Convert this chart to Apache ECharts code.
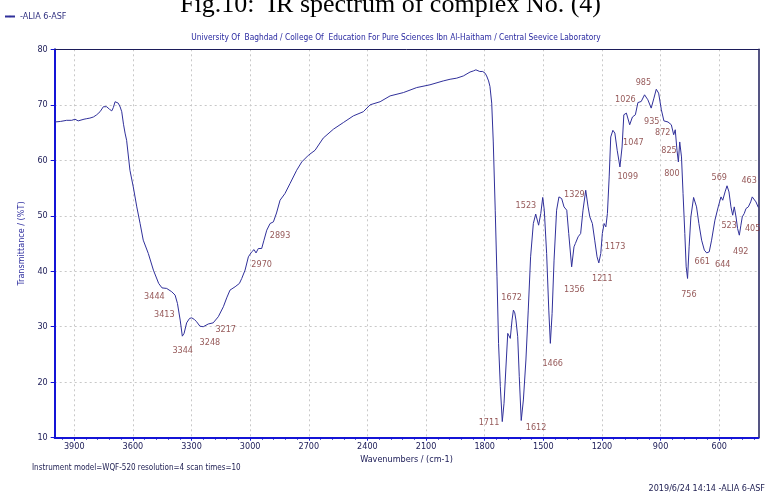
<!DOCTYPE html>
<html><head><meta charset="utf-8">
<script src="https://cdn.jsdelivr.net/npm/echarts@6/dist/echarts.min.js"></script>
<style>html,body{margin:0;padding:0;background:#fff}#c{width:774px;height:504px}</style>
</head><body><div id="c"></div>
<script>
// Wavenumber (cm-1) of each traced point
const wavenumbers = [4000,3970,3939,3913,3896,3880,3870,3850,3836,3820,3802,3785,3768,3751,3734,3720,3708,3700,3691,3683,3675,3665,3657,3648,3640,3632,3615,3598,3580,3563,3547,3521,3495,3468,3451,3427,3401,3384,3372,3358,3347,3338,3325,3310,3299,3285,3274,3257,3240,3214,3189,3163,3137,3120,3103,3077,3055,3043,3026,3009,2992,2980,2970,2958,2941,2930,2915,2898,2881,2865,2847,2822,2796,2762,2736,2702,2668,2626,2574,2523,2472,2421,2386,2335,2284,2216,2148,2080,2012,1977,1943,1909,1875,1858,1845,1825,1810,1798,1790,1780,1773,1764,1756,1746,1737,1729,1720,1710,1701,1692,1682,1675,1669,1660,1653,1646,1640,1631,1623,1613,1602,1589,1577,1565,1551,1539,1524,1513,1503,1495,1483,1472,1464,1455,1445,1432,1420,1406,1394,1380,1370,1355,1343,1336,1326,1322,1309,1297,1283,1271,1262,1249,1237,1225,1216,1206,1198,1189,1180,1172,1163,1155,1144,1134,1122,1108,1097,1088,1075,1058,1044,1029,1016,999,982,965,948,934,922,910,896,883,862,845,833,825,816,809,802,793,785,776,769,762,754,745,731,716,704,690,676,664,651,639,622,605,591,582,570,560,550,540,531,523,514,506,497,489,482,472,463,451,439,431,421,412,400];
// Transmittance (%T) of each traced point
const transmittance = [66.9,67.0,67.2,67.2,67.4,67.1,67.2,67.4,67.5,67.6,67.8,68.2,68.75,69.65,69.65,69.2,68.9,69.5,70.55,70.8,70.3,69.6,68.75,66.5,64.9,63.6,58.2,55.2,51.6,48.6,45.6,43.2,40.2,37.8,37.0,36.9,36.3,35.7,34.2,31.2,28.3,28.8,30.7,31.5,31.6,31.3,30.9,30.1,30.0,30.5,30.7,31.8,33.6,35.2,36.6,37.2,37.8,38.7,40.2,42.6,43.5,43.9,43.3,44.1,44.1,45.5,47.4,48.6,48.9,50.5,52.8,54.0,55.8,58.2,59.7,60.9,61.8,64.0,65.6,66.8,68.0,68.75,70.0,70.55,71.6,72.2,73.1,73.6,74.3,74.6,74.8,75.2,75.9,76.1,76.3,76.0,76.0,75.7,75.2,74.3,73.3,70.3,63.3,51.0,39.0,27.0,19.2,12.9,16.2,22.2,28.8,29.1,27.9,31.2,33.0,32.5,31.2,28.2,21.0,13.1,16.8,24.0,33.0,42.6,48.6,50.3,48.3,50.4,53.3,51.0,43.2,33.0,27.0,32.4,42.0,51.0,53.4,53.1,51.6,51.0,46.8,40.8,44.4,45.0,45.3,46.2,46.8,51.0,54.6,51.6,49.8,48.6,45.6,42.6,41.5,43.2,46.8,48.6,48.0,50.4,57.0,64.2,65.4,64.9,61.8,58.8,62.4,68.2,68.5,66.4,67.8,68.2,70.4,70.6,71.8,70.9,69.4,71.2,72.8,72.1,69.1,67.1,66.9,66.4,64.6,65.5,61.8,59.7,63.3,60.6,54.0,46.8,40.8,38.7,44.4,49.8,53.3,51.6,48.6,45.6,43.8,43.3,43.5,45.6,49.2,51.6,53.4,52.8,54.3,55.4,54.3,51.6,50.1,51.6,49.8,47.7,46.5,48.3,49.8,50.4,51.3,51.6,52.5,53.4,53.1,52.5,51.5];

// Peak annotations: text, and where the text sits (wavenumber, %T)
const peakNames  = ['3444','3413','3344','3248','3217','2970','2893','1711','1612','1672','1523','1466','1329','1356','1211','1173','1099','1026','1047','985','935','872','825','800','569','463','523','405','492','661','644','756'];
const peakLabelWn = [3490,3439,3345,3206,3125,2941,2847,1778,1537,1662,1589,1452,1341,1341,1198,1133,1068,1080,1039,988,945,889,857,842,600,447,549,429,490,687,582,755];
const peakLabelT  = [35.5,32.1,25.7,27.2,29.4,41.1,46.5,12.8,11.9,35.3,51.9,23.3,53.8,36.6,38.7,44.5,57.0,70.9,63.1,74.0,66.9,64.9,61.7,57.5,56.9,56.4,48.2,47.6,43.5,41.8,41.2,35.8];

const xTickLabels = [3900,3600,3300,3000,2700,2400,2100,1800,1500,1200,900,600];
const xMin = 400, xMax = 4000;
const yMin = 10, yMax = 80, yStep = 10;

const seriesName = '-ALIA 6-ASF';
const titleText = 'Fig.10:  IR spectrum of complex No. (4)';
const subtitleText = 'University Of  Baghdad / College Of  Education For Pure Sciences Ibn Al-Haitham / Central Seevice Laboratory';
const instrumentText = 'Instrument model=WQF-520 resolution=4 scan times=10';
const dateText = '2019/6/24 14:14 -ALIA 6-ASF';

const FONT = "'Liberation Sans Narrow','Arial Narrow','DejaVu Sans Condensed',sans-serif";
const minorTicks = [];
for (let v = 420; v <= 3960; v += 60) minorTicks.push(v);

const lineData = wavenumbers.map((w, i) => [w, transmittance[i]]);
const labelData = peakNames.map((n, i) => ({ name: n, value: [peakLabelWn[i], peakLabelT[i]] }));

const BORDER = '#1c1c5a';
const AXIS = '#1414d6';
const chart = echarts.init(document.getElementById('c'));
chart.setOption({
  animation: false,
  backgroundColor: '#ffffff',
  grid: { left: 54.7, right: 15.7, top: 49.3, bottom: 66.3, show: false },
  legend: {
    data: [seriesName], left: 4, top: 12, itemWidth: 10, itemHeight: 2, padding: 0,
    textStyle: { fontFamily: FONT, fontSize: 9, color: '#303080' }
  },
  xAxis: [{
    type: 'value', min: xMin, max: xMax, inverse: true,
    axisLine: { lineStyle: { color: AXIS, width: 2 } },
    axisTick: { show: true, customValues: xTickLabels, length: 3, lineStyle: { color: AXIS } },
    axisLabel: { customValues: xTickLabels, formatter: v => String(v), color: '#20205a', fontFamily: FONT, fontSize: 9, margin: 4 },
    splitLine: { show: true, lineStyle: { color: '#c8c8c8', type: [2, 3], width: 1 } },
    name: 'Wavenumbers / (cm-1)', nameLocation: 'middle', nameGap: 14,
    nameTextStyle: { fontFamily: FONT, fontSize: 9, color: '#20205a' }
  }, {
    type: 'value', min: xMin, max: xMax, inverse: true, position: 'bottom',
    axisLine: { show: false },
    axisTick: { show: true, customValues: minorTicks, length: 2, lineStyle: { color: AXIS } },
    axisLabel: { show: false }, splitLine: { show: false }
  }, {
    type: 'value', min: xMin, max: xMax, inverse: true, position: 'top',
    axisLine: { show: true, lineStyle: { color: BORDER, width: 1 } },
    axisTick: { show: false }, axisLabel: { show: false }, splitLine: { show: false }
  }],
  yAxis: [{
    type: 'value', min: yMin, max: yMax, interval: yStep,
    axisLine: { show: true, lineStyle: { color: AXIS, width: 2 } },
    axisTick: { show: true, length: 4, lineStyle: { color: AXIS } },
    axisLabel: { color: '#20205a', fontFamily: FONT, fontSize: 9, margin: 7 },
    splitLine: { show: true, lineStyle: { color: '#c8c8c8', type: [2, 3], width: 1 } },
    name: 'Transmittance / (%T)', nameLocation: 'middle', nameGap: 18,
    nameTextStyle: { fontFamily: FONT, fontSize: 9, color: '#3030a0' }
  }, {
    type: 'value', min: yMin, max: yMax, interval: yStep, position: 'right',
    axisLine: { show: true, lineStyle: { color: BORDER, width: 1.5 } },
    axisTick: { show: false }, axisLabel: { show: false }, splitLine: { show: false }
  }],
  series: [{
    name: seriesName, type: 'line', data: lineData, symbol: 'none', showSymbol: false,
    xAxisIndex: 0, yAxisIndex: 0,
    lineStyle: { color: '#30309a', width: 1 }, itemStyle: { color: '#30309a' }
  }, {
    name: 'peaks', type: 'scatter', data: labelData, symbolSize: 1, silent: true,
    xAxisIndex: 0, yAxisIndex: 0,
    itemStyle: { color: 'rgba(0,0,0,0)' }, clip: false,
    label: { show: true, position: 'inside', formatter: '{b}', fontFamily: FONT, fontSize: 9, color: '#7b2e2e' }
  }],
  graphic: [
    { type: 'text', left: 180, top: -8, style: { text: titleText, font: "26px 'Liberation Serif','Times New Roman',serif", fill: '#000' } },
    { type: 'text', x: 396, y: 38, style: { text: subtitleText, fontFamily: FONT, fontSize: 8.3, fill: '#2828a0', align: 'center', verticalAlign: 'middle' } },
    { type: 'text', x: 32, y: 468, style: { text: instrumentText, fontFamily: FONT, fontSize: 8, fill: '#1c1c50', align: 'left', verticalAlign: 'middle' } },
    { type: 'text', x: 765, y: 489, style: { text: dateText, fontFamily: FONT, fontSize: 9, fill: '#1c1c50', align: 'right', verticalAlign: 'middle' } }
  ]
});
</script>
</body></html>
